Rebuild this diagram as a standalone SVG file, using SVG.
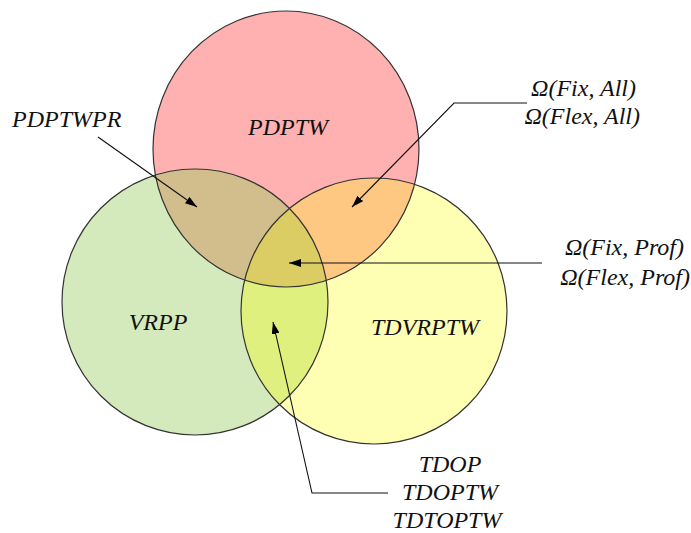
<svg xmlns="http://www.w3.org/2000/svg" width="691" height="533" viewBox="0 0 691 533">
  <defs>
    <marker id="arrow" viewBox="0 0 12 8" refX="12" refY="4" markerWidth="12" markerHeight="8" markerUnits="userSpaceOnUse" orient="auto">
      <path d="M0,0 L12,4 L0,8 Z" fill="#000"/>
    </marker>
    <clipPath id="clipR"><ellipse cx="286" cy="149" rx="133" ry="138"/></clipPath>
    <clipPath id="clipG"><circle cx="195" cy="302" r="133"/></clipPath>
  </defs>
  <rect width="691" height="533" fill="#fff"/>

  <!-- set fills -->
  <g id="set-PDPTW">
    <ellipse cx="286" cy="149" rx="133" ry="138" fill="#ffb0b0"/>
  </g>
  <g id="set-VRPP">
    <circle cx="195" cy="302" r="133" fill="#d4eabc"/>
  </g>
  <g id="set-TDVRPTW">
    <circle cx="374" cy="311" r="133" fill="#ffffb4"/>
  </g>

  <!-- overlap regions -->
  <g id="overlaps">
    <g clip-path="url(#clipR)"><circle cx="195" cy="302" r="133" fill="#d2be8c"/></g>
    <g clip-path="url(#clipR)"><circle cx="374" cy="311" r="133" fill="#ffc882"/></g>
    <g clip-path="url(#clipG)"><circle cx="374" cy="311" r="133" fill="#e0f07e"/></g>
    <g clip-path="url(#clipR)"><g clip-path="url(#clipG)"><circle cx="374" cy="311" r="133" fill="#dccc64"/></g></g>
  </g>

  <!-- outlines -->
  <g id="outlines" fill="none" stroke="#333" stroke-width="1.2">
    <ellipse cx="286" cy="149" rx="133" ry="138"/>
    <circle cx="195" cy="302" r="133"/>
    <circle cx="374" cy="311" r="133"/>
  </g>

  <!-- set names -->
  <g id="names" fill="#111">
    <text style="font-family:'Liberation Serif', serif; font-style:italic; font-size:24px" x="288" y="135" text-anchor="middle">PDPTW</text>
    <text style="font-family:'Liberation Serif', serif; font-style:italic; font-size:24px" x="158" y="330" text-anchor="middle">VRPP</text>
    <text style="font-family:'Liberation Serif', serif; font-style:italic; font-size:24px" x="425" y="335" text-anchor="middle">TDVRPTW</text>
  </g>

  <!-- callout connectors -->
  <g id="connectors" fill="none" stroke="#111" stroke-width="1.1">
    <path d="M98,137 L197,207" marker-end="url(#arrow)"/>
    <path d="M527,103 L454,103 L352,207" marker-end="url(#arrow)"/>
    <path d="M542,263 L289,263" marker-end="url(#arrow)"/>
    <path d="M388,493 L312,493 L273,322" marker-end="url(#arrow)"/>
  </g>

  <!-- callout labels -->
  <g id="callout-PDPTWPR" fill="#111">
    <text style="font-family:'Liberation Serif', serif; font-style:italic; font-size:24px" x="12" y="127">PDPTWPR</text>
  </g>
  <g id="callout-all" fill="#111">
    <text style="font-family:'Liberation Serif', serif; font-style:italic; font-size:24px" x="636" y="96" text-anchor="end">Ω(Fix, All)</text>
    <text style="font-family:'Liberation Serif', serif; font-style:italic; font-size:24px" x="640" y="124" text-anchor="end">Ω(Flex, All)</text>
  </g>
  <g id="callout-prof" fill="#111">
    <text style="font-family:'Liberation Serif', serif; font-style:italic; font-size:24px" x="684" y="255" text-anchor="end">Ω(Fix, Prof)</text>
    <text style="font-family:'Liberation Serif', serif; font-style:italic; font-size:24px" x="690" y="285" text-anchor="end">Ω(Flex, Prof)</text>
  </g>
  <g id="callout-TDOP" fill="#111">
    <text style="font-family:'Liberation Serif', serif; font-style:italic; font-size:24px" x="450" y="472" text-anchor="middle">TDOP</text>
    <text style="font-family:'Liberation Serif', serif; font-style:italic; font-size:24px" x="450" y="500" text-anchor="middle">TDOPTW</text>
    <text style="font-family:'Liberation Serif', serif; font-style:italic; font-size:24px" x="447" y="528" text-anchor="middle">TDTOPTW</text>
  </g>
</svg>
